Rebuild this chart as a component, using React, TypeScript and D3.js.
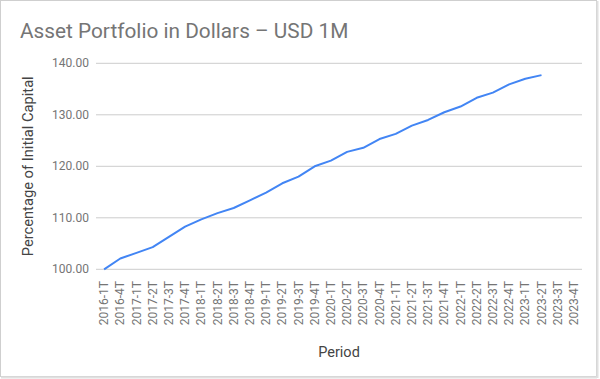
import React from "react";
import * as d3 from "d3";

const periods = [
  "2016-1T", "2016-4T",
  "2017-1T", "2017-2T", "2017-3T", "2017-4T",
  "2018-1T", "2018-2T", "2018-3T", "2018-4T",
  "2019-1T", "2019-2T", "2019-3T", "2019-4T",
  "2020-1T", "2020-2T", "2020-3T", "2020-4T",
  "2021-1T", "2021-2T", "2021-3T", "2021-4T",
  "2022-1T", "2022-2T", "2022-3T", "2022-4T",
  "2023-1T", "2023-2T", "2023-3T", "2023-4T",
];

const values = [
  100.0, 102.1, 103.2, 104.3, 106.3, 108.3, 109.7, 110.9, 111.9, 113.4,
  114.9, 116.7, 118.0, 120.0, 121.1, 122.8, 123.6, 125.3, 126.3, 127.9,
  129.0, 130.5, 131.6, 133.3, 134.3, 135.9, 137.0, 137.7,
];

const yTicks = [100, 110, 120, 130, 140];

const W = 600;
const H = 379;
const M = { left: 96, right: 582, top: 63.3, bottom: 269.3 };
const FONT = "Roboto, Arial, sans-serif";

export default function App() {
  const x = d3.scaleBand<string>().domain(periods).range([M.left, M.right]);
  const y = d3.scaleLinear().domain([100, 140]).range([M.bottom, M.top]);
  const cx = (p: string) => (x(p) as number) + x.bandwidth() / 2;

  const line = d3
    .line<number>()
    .x((_, i) => cx(periods[i]))
    .y((v) => y(v));

  return (
    <svg
      width={W}
      height={H}
      style={{ position: "absolute", left: 0, top: 0, background: "#fff" }}
    >
      <rect x={0.5} y={0.5} width={596} height={376} fill="#fff" stroke="#cfcfcf" strokeWidth={1} />
      <line x1={1} x2={597} y1={377.5} y2={377.5} stroke="#e0e0e0" strokeWidth={2} />
      <line x1={597.5} x2={597.5} y1={1} y2={378} stroke="#e0e0e0" strokeWidth={2} />
      <text x={20} y={37.5} fontFamily={FONT} fontSize={20.8} fill="#757575">
        Asset Portfolio in Dollars – USD 1M
      </text>
      {yTicks.map((t) => (
        <g key={t}>
          <line x1={M.left} x2={M.right} y1={y(t)} y2={y(t)} stroke="#cccccc" strokeWidth={1} />
          <text
            x={89}
            y={y(t) + 4}
            textAnchor="end"
            fontFamily={FONT}
            fontSize={12}
            fill="#757575"
          >
            {t.toFixed(2)}
          </text>
        </g>
      ))}
      {periods.map((p) => (
        <text
          key={p}
          transform={`translate(${cx(p) + 4},281) rotate(-90)`}
          textAnchor="end"
          fontFamily={FONT}
          fontSize={12}
          fill="#757575"
        >
          {p}
        </text>
      ))}
      <path d={line(values) || ""} fill="none" stroke="#4285F4" strokeWidth={2} strokeLinejoin="round" />
      <text
        transform={`translate(33,${(M.top + M.bottom) / 2}) rotate(-90)`}
        textAnchor="middle"
        fontFamily={FONT}
        fontSize={14.7}
        fill="#444444"
      >
        Percentage of Initial Capital
      </text>
      <text
        x={(M.left + M.right) / 2}
        y={357}
        textAnchor="middle"
        fontFamily={FONT}
        fontSize={14.5}
        fill="#444444"
      >
        Period
      </text>
    </svg>
  );
}
